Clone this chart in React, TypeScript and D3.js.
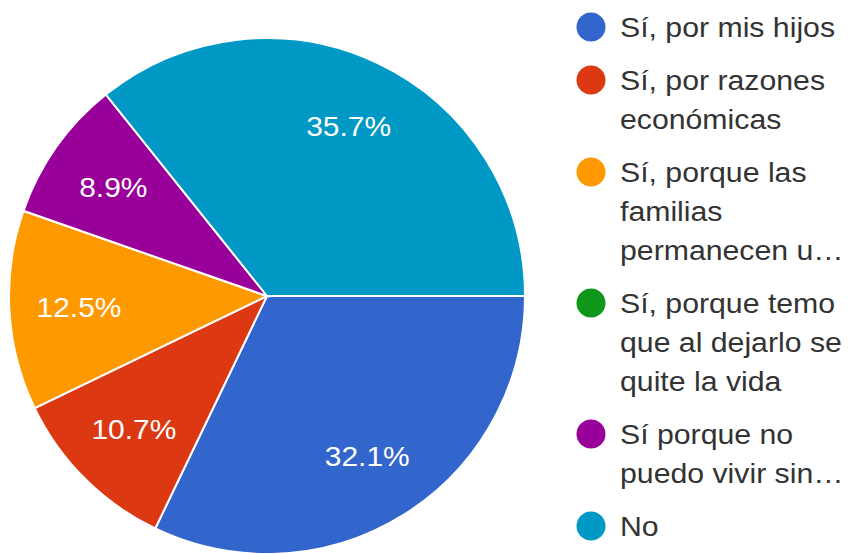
import React from 'react';
import * as d3 from 'd3';

// Survey answers (share of responses, %)
const categories = [
  'Sí, por mis hijos',
  'Sí, por razones económicas',
  'Sí, porque las familias permanecen u…',
  'Sí, porque temo que al dejarlo se quite la vida',
  'Sí porque no puedo vivir sin…',
  'No',
];
const values = [32.1, 10.7, 12.5, 0, 8.9, 35.7];
// legend text as wrapped in the original
const legendLines = [
  ['Sí, por mis hijos'],
  ['Sí, por razones', 'económicas'],
  ['Sí, porque las', 'familias', 'permanecen u…'],
  ['Sí, porque temo', 'que al dejarlo se', 'quite la vida'],
  ['Sí porque no', 'puedo vivir sin…'],
  ['No'],
];
const colors = ['#3366cc', '#dc3912', '#ff9900', '#109618', '#990099', '#0099c6'];

const W = 852;
const H = 554;
const cx = 267;
const cy = 296;
const radius = 258;
const font = '"Liberation Sans", Arial, sans-serif';

export default function App() {
  const pie = d3
    .pie<number>()
    .sort(null)
    .startAngle(Math.PI / 2)
    .endAngle(Math.PI / 2 + 2 * Math.PI);
  const arcs = pie(values);
  const arc = d3.arc<d3.PieArcDatum<number>>().innerRadius(0).outerRadius(radius);
  const labelArc = d3
    .arc<d3.PieArcDatum<number>>()
    .innerRadius(radius * 0.73)
    .outerRadius(radius * 0.73);

  // legend layout
  const lineH = 39;
  const itemGap = 53;
  let y = 27;
  const legendItems = legendLines.map((lines, i) => {
    const item = { y, lines, color: colors[i], key: categories[i] };
    y += (lines.length - 1) * lineH + itemGap;
    return item;
  });

  return (
    <svg
      width={W}
      height={H}
      style={{ position: 'absolute', left: 0, top: 0, background: '#fff' }}
    >
      <g transform={`translate(${cx},${cy})`}>
        {arcs.map((a, i) => (
          <path key={i} d={arc(a) || ''} fill={colors[i]} stroke="#fff" strokeWidth={2} />
        ))}
        {arcs.map((a, i) => {
          if (a.value === 0) return null;
          const [lx, ly] = labelArc.centroid(a);
          return (
            <text
              key={'l' + i}
              transform={`translate(${lx},${ly}) scale(1.07,1)`}
              dy="0.36em"
              textAnchor="middle"
              fill="#fff"
              fontFamily={font}
              fontSize={28}
            >
              {`${values[i].toFixed(1)}%`}
            </text>
          );
        })}
      </g>
      <g>
        {legendItems.map((it) => (
          <g key={it.key}>
            <circle cx={591} cy={it.y} r={14.5} fill={it.color} />
            {it.lines.map((ln, j) => (
              <text
                key={j}
                transform={`translate(620,${it.y + j * lineH}) scale(1.1,1)`}
                dy="0.36em"
                fill="#333"
                fontFamily={font}
                fontSize={27.5}
              >
                {ln}
              </text>
            ))}
          </g>
        ))}
      </g>
    </svg>
  );
}
